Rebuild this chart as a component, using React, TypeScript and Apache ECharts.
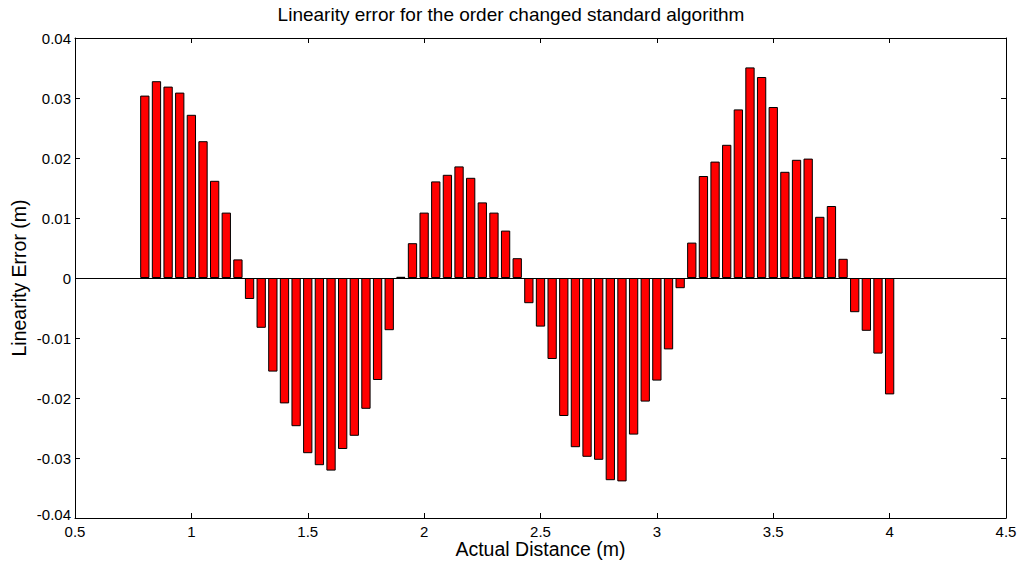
import React, { useEffect, useRef } from "react";
import * as echarts from "echarts";

const positions: number[] = [
  0.8, 0.85, 0.9, 0.95, 1.0, 1.05, 1.1, 1.15, 1.2, 1.25, 1.3, 1.35, 1.4, 1.45, 1.5, 1.55, 1.6, 1.65, 1.7, 1.75,
  1.8, 1.85, 1.9, 1.95, 2.0, 2.05, 2.1, 2.15, 2.2, 2.25, 2.3, 2.35, 2.4, 2.45, 2.5, 2.55, 2.6, 2.65, 2.7, 2.75,
  2.8, 2.85, 2.9, 2.95, 3.0, 3.05, 3.1, 3.15, 3.2, 3.25, 3.3, 3.35, 3.4, 3.45, 3.5, 3.55, 3.6, 3.65, 3.7, 3.75,
  3.8, 3.85, 3.9, 3.95, 4.0,
];

const errors: number[] = [
  0.0304, 0.0328, 0.0319, 0.0309, 0.0272, 0.0228, 0.0162, 0.0109, 0.0031, -0.0035,
  -0.0083, -0.0156, -0.0209, -0.0247, -0.0292, -0.0312, -0.0321, -0.0285, -0.0263, -0.0218,
  -0.017, -0.0087, 0.0002, 0.0058, 0.0109, 0.0161, 0.0172, 0.0186, 0.0167, 0.0126,
  0.0109, 0.0079, 0.0033, -0.0042, -0.0081, -0.0135, -0.023, -0.0282, -0.0298, -0.0303,
  -0.0337, -0.0339, -0.0261, -0.0206, -0.0171, -0.0119, -0.0017, 0.0059, 0.017, 0.0194,
  0.0222, 0.0281, 0.0351, 0.0335, 0.0285, 0.0177, 0.0197, 0.0199, 0.0102, 0.012,
  0.0032, -0.0057, -0.0088, -0.0126, -0.0194,
];

const titleText = "Linearity error for the order changed standard algorithm";
const xName = "Actual Distance (m)";
const yName = "Linearity Error (m)";
const yMin = -0.04;
const yMax = 0.04;

export default function App() {
  const ref = useRef<HTMLDivElement>(null);
  useEffect(() => {
    if (!ref.current) return;
    const chart = echarts.init(ref.current, null, { renderer: "svg" });
    const font = "Liberation Sans, Arial, sans-serif";
    const axisCommon = {
      axisLine: { show: true, onZero: false, lineStyle: { color: "#000", width: 1 } },
      axisTick: { show: true, inside: true, length: 5, lineStyle: { color: "#000" } },
      splitLine: { show: false },
    };
    chart.setOption({
      animation: false,
      backgroundColor: "#fff",
      textStyle: { fontFamily: font },
      title: {
        text: titleText,
        left: "center",
        top: 0,
        textStyle: { fontFamily: font, fontSize: 19, fontWeight: "normal", color: "#000" },
      },
      grid: { left: 75, right: 16, top: 38, bottom: 43, containLabel: false, outerBoundsMode: "none" },
      xAxis: [
        {
          type: "value",
          min: 0.5,
          max: 4.5,
          interval: 0.5,
          name: xName,
          nameLocation: "middle",
          nameGap: 21,
          nameMoveOverlap: false,
          nameTextStyle: { fontFamily: font, fontSize: 19.5, color: "#000" },
          axisLabel: { fontFamily: font, fontSize: 15, lineHeight: 12, color: "#000", margin: 7 },
          ...axisCommon,
        },
        {
          type: "value",
          position: "top",
          min: 0.5,
          max: 4.5,
          interval: 0.5,
          axisLabel: { show: false },
          ...axisCommon,
        },
      ],
      yAxis: [
        {
          type: "value",
          min: yMin,
          max: yMax,
          interval: 0.01,
          name: yName,
          nameLocation: "middle",
          nameGap: 46,
          nameMoveOverlap: false,
          nameTextStyle: { fontFamily: font, fontSize: 19.5, color: "#000" },
          axisLabel: {
            fontFamily: font,
            fontSize: 15,
            lineHeight: 12,
            color: "#000",
            margin: 4,
            formatter: (v: number) => {
              const s = String(parseFloat(v.toFixed(4)));
              return Math.abs(v - yMin) < 1e-9 ? `{lo|${s}}` : s;
            },
            rich: {
              lo: { fontFamily: font, fontSize: 15, lineHeight: 12, color: "#000", padding: [0, 0, 8, 0] },
            },
          },
          ...axisCommon,
        },
        {
          type: "value",
          position: "right",
          min: yMin,
          max: yMax,
          interval: 0.01,
          axisLabel: { show: false },
          ...axisCommon,
        },
      ],
      series: [
        {
          type: "bar",
          xAxisIndex: 0,
          yAxisIndex: 0,
          barWidth: 9.3,
          data: positions.map((p, i) => [p, errors[i]]),
          itemStyle: { color: "#ff0000", borderColor: "#000", borderWidth: 1 },
          markLine: {
            silent: true,
            symbol: "none",
            label: { show: false },
            lineStyle: { color: "#000", width: 1, type: "solid" },
            data: [{ yAxis: 0 }],
          },
        },
      ],
    });
    return () => chart.dispose();
  }, []);
  return (
    <div
      ref={ref}
      style={{ position: "fixed", left: 0, top: 0, width: 1022, height: 561, background: "#fff" }}
    />
  );
}
